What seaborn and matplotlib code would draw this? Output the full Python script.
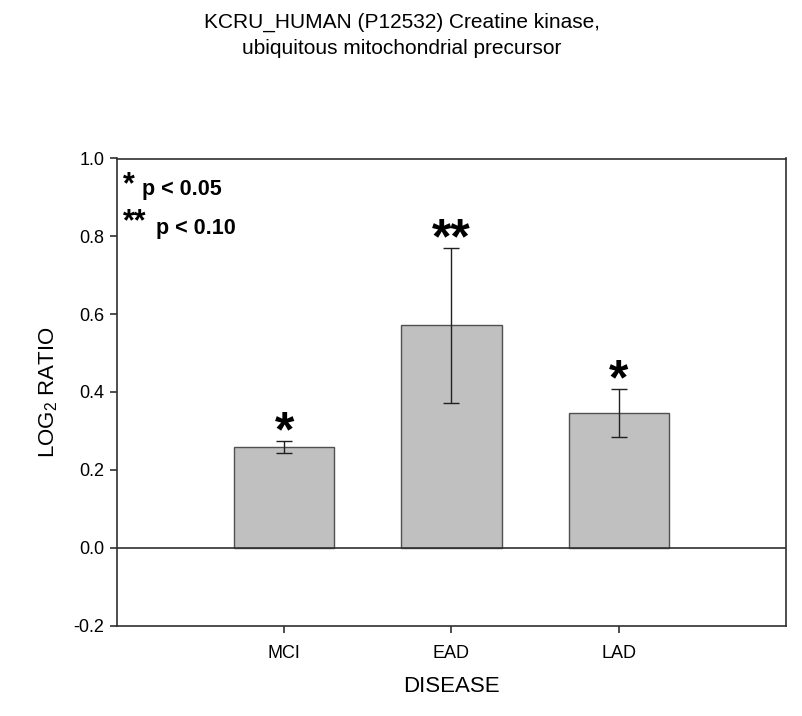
import numpy as np
import pandas as pd
import matplotlib
matplotlib.use("Agg")
import matplotlib.pyplot as plt
import seaborn as sns

# data
diseases = ["MCI", "EAD", "LAD"]
log2_ratio = [0.259, 0.571, 0.346]
err = [0.015, 0.200, 0.062]
stars = ["*", "**", "*"]

title_lines = ["KCRU_HUMAN (P12532) Creatine kinase,", "ubiquitous mitochondrial precursor"]

sns.set_theme(style="ticks")
plt.rcParams["font.family"] = ["Liberation Sans", "DejaVu Sans"]
plt.rcParams["mathtext.fontset"] = "custom"
plt.rcParams["mathtext.rm"] = "Liberation Sans"
plt.rcParams["mathtext.it"] = "Liberation Sans"
plt.rcParams["text.color"] = "black"
plt.rcParams["axes.labelcolor"] = "black"

df = pd.DataFrame({"disease": diseases, "ratio": log2_ratio})

fig = plt.figure(figsize=(8.03, 7.16), dpi=100)
ax = fig.add_axes([117 / 803, 1 - 625.5 / 716, 669 / 803, 467 / 716])

sns.barplot(
    data=df, x="disease", y="ratio", ax=ax,
    color="#c0c0c0", edgecolor="#505050", linewidth=1.0,
    width=0.6, errorbar=None, saturation=1,
)
xpos = np.arange(len(diseases))
ax.errorbar(
    xpos, log2_ratio, yerr=err, fmt="none",
    ecolor="#202020", elinewidth=1.0, capsize=6, capthick=1.0,
)

# significance stars above the error bars
for x, y, e, s in zip(xpos, log2_ratio, err, stars):
    ax.annotate(
        s, (x, y + e), xytext=(0, -4), textcoords="offset points",
        ha="center", va="baseline", fontsize=36, fontweight="bold",
    )

ax.axhline(0, color="#303030", lw=1.2, zorder=1)

ax.set_xlim(-1, 3)
ax.set_ylim(-0.2, 1.0)
ax.set_yticks([-0.2, 0.0, 0.2, 0.4, 0.6, 0.8, 1.0])
ax.set_yticklabels([f"{v:.1f}" for v in ax.get_yticks()])

for sp in ax.spines.values():
    sp.set_visible(True)
    sp.set_color("#303030")
    sp.set_linewidth(1.2)

ax.tick_params(axis="both", direction="out", length=5, width=1.2, color="#303030",
               labelsize=13, labelcolor="black")
ax.tick_params(axis="x", pad=9)
ax.tick_params(axis="y", pad=4)

ax.set_xlabel("DISEASE", fontsize=16, labelpad=10)
ax.set_ylabel(r"LOG$_{\mathregular{2}}$ RATIO", fontsize=16, labelpad=10)

fig.text(0.5, 1 - 13 / 716, "\n".join(title_lines), ha="center", va="top",
         fontsize=15, linespacing=1.45)

# significance key in upper left corner
ax.text(123 / 803, 1 - 193 / 716, "*", transform=fig.transFigure,
        fontsize=22, fontweight="bold", va="baseline", ha="left")
ax.text(142 / 803, 1 - 195 / 716, "p < 0.05", transform=fig.transFigure,
        fontsize=15.5, fontweight="bold", va="baseline", ha="left")
ax.text(123 / 803, 1 - 230 / 716, "**", transform=fig.transFigure,
        fontsize=22, fontweight="bold", va="baseline", ha="left")
ax.text(156 / 803, 1 - 234 / 716, "p < 0.10", transform=fig.transFigure,
        fontsize=15.5, fontweight="bold", va="baseline", ha="left")

fig.savefig("out.png", dpi=100)
